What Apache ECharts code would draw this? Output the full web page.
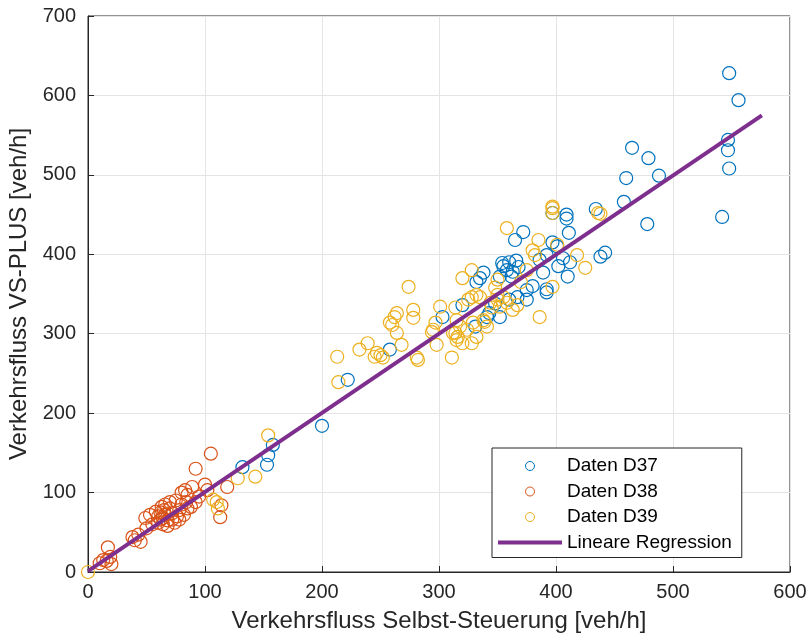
<!DOCTYPE html>
<html><head><meta charset="utf-8">
<script src="https://cdn.jsdelivr.net/npm/echarts@6/dist/echarts.min.js"></script>
<style>html,body{margin:0;padding:0;background:#fff}#c{width:812px;height:641px}</style>
</head><body><div id="c"></div>
<script>
const xTicks = [0, 100, 200, 300, 400, 500, 600];
const yTicks = [0, 100, 200, 300, 400, 500, 600, 700];
const seriesNames = ['Daten D37', 'Daten D38', 'Daten D39', 'Lineare Regression'];
const xTitle = 'Verkehrsfluss Selbst-Steuerung [veh/h]';
const yTitle = 'Verkehrsfluss VS-PLUS [veh/h]';

const d37 = [
 [548,628],[556,594],[547,544],[547,531],[548,508],[542,447],
 [465,534],[479,521],[488,499],[460,496],[458,466],[478,438],
 [434,457],[409,450],[409,445],[411,427],[397,452],[372,428],[365,418],[397,415],[401,410],
 [438,397],[442,402],[412,390],[406,395],[410,372],[392,399],[386,393],[389,377],
 [355,385],[360,390],[366,392],[358,380],[363,378],[368,384],[352,372],[362,372],
 [338,377],[335,370],[332,365],[354,389],[402,385],[380,360],[348,338],
 [392,356],[392,352],[375,355],[375,343],[367,346],[360,343],
 [320,336],[343,326],[341,321],[303,321],[331,309],[352,321],
 [258,280],[222,242],[200,184],[158,160],[154,147],[153,135],[132,132]
];
const d38 = [
 [105,149],[92,130],[17,31],[19,19],[13,15],[10,11],[16,14],[20,10],
 [38,44],[43,47],[40,40],[45,38],[49,68],[53,72],[50,55],[55,60],
 [60,70],[62,75],[64,68],[65,78],[66,72],[68,65],[70,80],[72,74],[74,62],[68,58],
 [60,62],[63,82],[58,76],[76,70],[78,78],[80,85],[82,72],[70,88],[75,90],[66,85],
 [72,66],[64,60],[62,66],[78,66],[85,80],[84,88],[80,100],
 [83,103],[85,97],[89,107],[100,110],[102,103],[113,69],[114,84],[119,107],[95,95],[92,88],[88,82]
];
const d39 = [
 [0,0],[154,172],[143,120],[128,118],[110,88],[111,80],[107,91],
 [274,359],[264,326],[262,321],[278,330],[278,320],[260,311],[264,301],[239,288],[232,280],
 [247,276],[250,273],[245,271],[252,270],[268,286],[213,271],[214,239],[281,270],
 [301,334],[297,314],[294,302],[314,333],[315,317],[318,309],[314,301],[315,292],[320,288],
 [316,296],[311,270],[298,286],[282,267],[258,314],
 [329,314],[332,296],[328,288],[320,370],[328,380],[348,358],[350,368],[338,317],[341,309],
 [345,333],[350,349],
 [358,433],[397,458],[397,452],[436,452],[385,418],[425,383],[418,399],[380,405],[382,399],
 [401,412],[397,359],
 [325,343],[328,346],[332,349],[344,339],[350,343],[352,334],[355,346],[358,339],[324,305],
 [339,315],[312,301],[295,305],[363,330],[367,336],[386,321],[335,346],
 [397,460],[438,451],[375,380],[370,365]
];
const regX = [0, 576];
const regY = [1, 575];

const colors = ['#0072BD', '#D95319', '#EDB120', '#7E2F8E'];
const font = 'Liberation Sans, Arial, Helvetica, sans-serif';
const ink = '#262626';

const chart = echarts.init(document.getElementById('c'), null, {renderer: 'canvas'});
const scatter = (name, data, color) => ({
  name, type: 'scatter', data, symbol: 'circle', symbolSize: 13,
  itemStyle: {color: 'rgba(0,0,0,0)', borderColor: color, borderWidth: 1.2, opacity: 1},
  emphasis: {disabled: true}, silent: true
});
const axisCommon = {
  type: 'value',
  axisLine: {show: true, lineStyle: {color: ink, width: 1}},
  axisTick: {show: true, inside: true, length: 6, lineStyle: {color: ink}},
  splitLine: {show: true, lineStyle: {color: '#e4e4e4', width: 1}},
  axisLabel: {color: ink, fontSize: 20, fontFamily: font},
  nameLocation: 'middle',
  nameTextStyle: {color: ink, fontSize: 24, fontFamily: font}
};
chart.setOption({
  animation: false,
  backgroundColor: '#fff',
  grid: {left: 88, right: 22, top: 16, bottom: 69, containLabel: false, outerBoundsMode: 'none',
         show: true, borderColor: ink, borderWidth: 1, backgroundColor: '#fff'},
  xAxis: Object.assign({}, axisCommon, {
    min: xTicks[0], max: xTicks[xTicks.length - 1], interval: 100,
    name: xTitle, nameGap: 37,
    axisLabel: Object.assign({}, axisCommon.axisLabel, {margin: 10})
  }),
  yAxis: Object.assign({}, axisCommon, {
    min: yTicks[0], max: yTicks[yTicks.length - 1], interval: 100,
    name: yTitle, nameGap: 54, nameRotate: 90,
    axisLabel: Object.assign({}, axisCommon.axisLabel, {margin: 12})
  }),
  legend: {
    orient: 'vertical', left: 492, top: 448,
    itemWidth: 64, itemHeight: 9, itemGap: 5.5,
    padding: [8, 10, 5, 6],
    borderColor: ink, borderWidth: 1, borderRadius: 0, backgroundColor: '#fff',
    textStyle: {fontSize: 19, fontFamily: font, color: '#000', lineHeight: 20},
    data: [
      {name: seriesNames[0], icon: 'circle', itemStyle: {color: 'rgba(0,0,0,0)', borderColor: colors[0], borderWidth: 1}},
      {name: seriesNames[1], icon: 'circle', itemStyle: {color: 'rgba(0,0,0,0)', borderColor: colors[1], borderWidth: 1}},
      {name: seriesNames[2], icon: 'circle', itemStyle: {color: 'rgba(0,0,0,0)', borderColor: colors[2], borderWidth: 1}},
      {name: seriesNames[3], icon: 'path://M0,0 L64,0 L64,4 L0,4 Z', itemStyle: {color: colors[3], borderWidth: 0}}
    ],
    selectedMode: false
  },
  series: [
    scatter(seriesNames[0], d37, colors[0]),
    scatter(seriesNames[1], d38, colors[1]),
    scatter(seriesNames[2], d39, colors[2]),
    {name: seriesNames[3], type: 'line', data: regX.map((x, i) => [x, regY[i]]),
     symbol: 'none', lineStyle: {color: colors[3], width: 4}, itemStyle: {color: colors[3]},
     emphasis: {disabled: true}, silent: true}
  ]
});
</script>
</body></html>
